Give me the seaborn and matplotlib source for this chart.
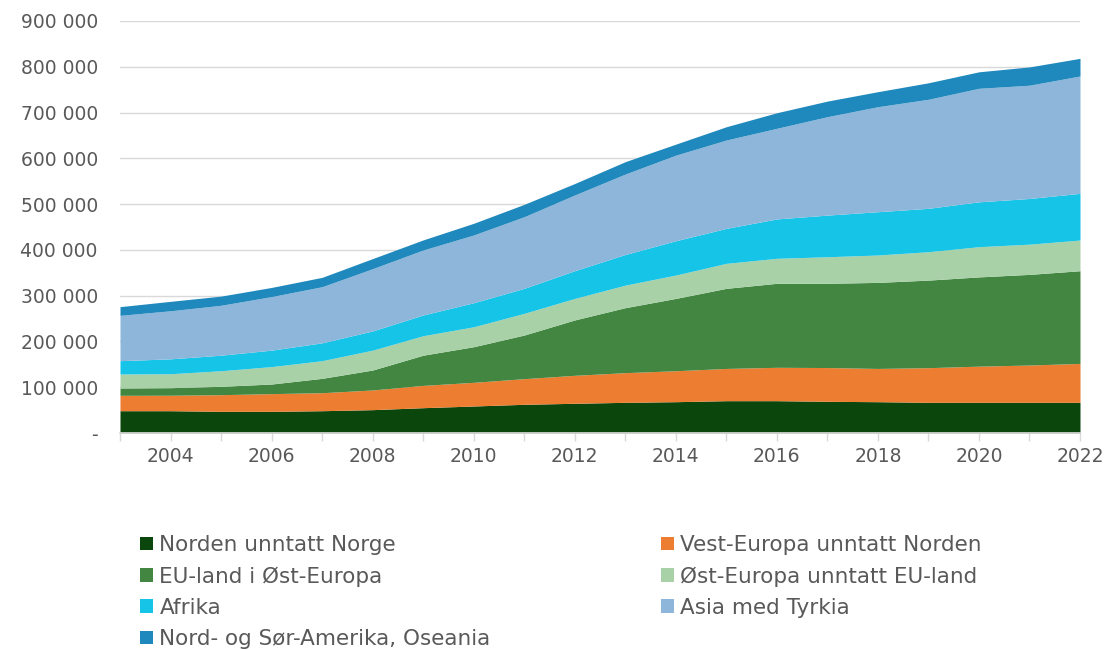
import numpy as np
import pandas as pd
import matplotlib
matplotlib.use("Agg")
import matplotlib.pyplot as plt
from matplotlib.patches import Patch
from matplotlib.ticker import FuncFormatter, MultipleLocator
import seaborn as sns

years = list(range(2003, 2023))

norden = [48700, 48700, 47300, 47300, 48700, 51000, 55300, 59000, 62700, 64900,
          67000, 68400, 70600, 70600, 69200, 68400, 67000, 67000, 67000, 67000]
vest_europa = [33600, 33800, 36400, 38700, 39300, 43000, 48700, 51700, 56000, 61100,
               64800, 67600, 70400, 72900, 73800, 72600, 75700, 79000, 81500, 85000]
eu_ost = [16000, 16500, 18300, 21000, 31400, 43600, 66000, 77800, 95300, 121000,
          142000, 158000, 175000, 183500, 184000, 188000, 191300, 195000, 198000, 202500]
ost_europa = [30600, 30500, 34000, 38000, 38600, 43400, 42500, 43500, 47400, 47000,
              49200, 51000, 54600, 54600, 58000, 59800, 62000, 66000, 66000, 67000]
afrika = [29100, 32500, 34000, 36000, 39000, 42000, 45300, 52600, 54600, 60600,
          67000, 75000, 76400, 86000, 91000, 94600, 94800, 98000, 99800, 102000]
asia = [99000, 105000, 109000, 117000, 122600, 136000, 142000, 148000, 156500, 165400,
        175700, 187000, 193000, 198000, 215000, 229400, 238200, 248000, 247400, 256400]
amerika = [19000, 20600, 20000, 20000, 20400, 22000, 22000, 25500, 27000, 25000,
           27000, 24000, 29000, 34000, 34000, 32800, 36000, 36000, 40000, 38500]

labels = ["Norden unntatt Norge", "Vest-Europa unntatt Norden", "EU-land i Øst-Europa",
          "Øst-Europa unntatt EU-land", "Afrika", "Asia med Tyrkia",
          "Nord- og Sør-Amerika, Oseania"]
colors = ["#0b470c", "#ed7d31", "#438641", "#a8d1a8", "#16c4e8", "#8db6da", "#1f88bc"]

df = pd.DataFrame({"year": years})
for lab, vals in zip(labels, [norden, vest_europa, eu_ost, ost_europa, afrika, asia, amerika]):
    df[lab] = vals

sns.set_theme(style="white")
plt.rcParams["font.family"] = ["DejaVu Sans"]

fig = plt.figure(figsize=(11.08, 6.5), dpi=100)
ax = fig.add_axes([120 / 1108, 1 - 433 / 650, 960 / 1108, 412 / 650])

ax.stackplot(df["year"], *[df[lab] for lab in labels], colors=colors, linewidth=0)

ax.set_xlim(2003, 2022)
ax.set_ylim(0, 900000)
ax.yaxis.set_major_locator(MultipleLocator(100000))
ax.yaxis.set_major_formatter(FuncFormatter(
    lambda v, p: "-" if v == 0 else f"{int(v):,}".replace(",", " ")))
ax.set_xticks(years)
ax.set_xticklabels([str(y) if y % 2 == 0 else "" for y in years])
ax.grid(axis="y", color="#d9d9d9", linewidth=1)
ax.set_axisbelow(True)
for s in ["top", "right", "left"]:
    ax.spines[s].set_visible(False)
ax.spines["bottom"].set_color("#d9d9d9")
ax.tick_params(axis="x", bottom=True, length=6, width=1, color="#d9d9d9",
               labelsize=13.5, labelcolor="#595959", pad=4)
ax.tick_params(axis="y", left=False, labelsize=13.5, labelcolor="#595959", pad=10)
ax.set_xlabel("")
ax.set_ylabel("")

# legend filled row by row: Norden | Vest, EU | Øst, Afrika | Asia, Amerika
order = [0, 2, 4, 6, 1, 3, 5]
handles = [Patch(facecolor=colors[i], edgecolor="none") for i in order]
fig.legend(handles, [labels[i] for i in order], ncol=2, loc="upper left",
           bbox_to_anchor=(140 / 1108, 1 - 535 / 650), frameon=False,
           fontsize=15.5, labelcolor="#595959", handlelength=0.6, handleheight=0.6,
           handletextpad=0.3, labelspacing=0.52, columnspacing=7.9,
           borderpad=0, borderaxespad=0)

fig.savefig("out.png", dpi=100)
